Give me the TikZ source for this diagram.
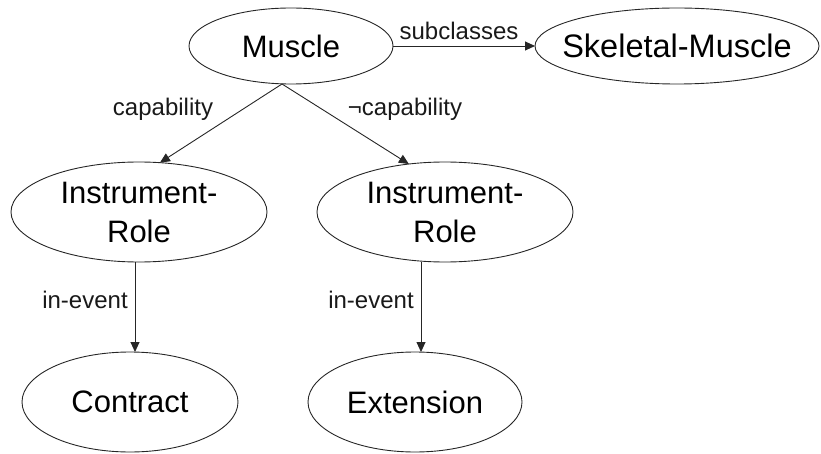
\documentclass[tikz,border=0pt]{standalone}
\usepackage{fontspec}
\setmainfont{Liberation Sans}
\usetikzlibrary{shapes.geometric,arrows.meta}
\tikzset{
  ell/.style={ellipse, draw=black!85, line width=0.9pt, inner sep=0pt, outer sep=0pt},
  ntext/.style={inner sep=0pt, align=center, font=\fontsize{31}{39}\selectfont},
  bigtext/.style={ntext, font=\fontsize{32.5}{39}\selectfont},
  elabel/.style={inner sep=0pt, font=\fontsize{24}{28}\selectfont, text=black!90},
  arr/.style={draw=black!85, line width=0.9pt, -{Triangle[length=10pt,width=9pt]}}
}
\begin{document}
\begin{tikzpicture}[x=1pt,y=-1pt]
\useasboundingbox (0,0) rectangle (821,454);
% nodes
\node[ell, minimum width=204pt, minimum height=76pt] (mus) at (291,46) {};
\node[ntext] (must) at (mus) {Muscle};
\node[ell, minimum width=284pt, minimum height=76pt] (sk) at (677,46) {};
\node[bigtext] (skt) at (sk) {Skeletal-Muscle};
\node[ell, minimum width=256pt, minimum height=100pt] (irl) at (139,212) {};
\node[ntext] (irlt) at (irl) {Instrument-\\Role};
\node[ell, minimum width=256pt, minimum height=100pt] (irr) at (445,212) {};
\node[ntext] (irrt) at (irr) {Instrument-\\Role};
\node[ell, minimum width=216pt, minimum height=100pt] (con) at (130,402) {};
\node[ntext] (cont) at (con) {Contract};
\node[ell, minimum width=214pt, minimum height=100pt] (ext) at (415,402) {};
\node[ntext] (extt) at (ext) {Extension};
% connectors
\coordinate (apex) at ([xshift=-9pt]mus.south);
\draw[arr] (mus.east) -- (sk.west);
\draw[arr] (apex) -- (irl.67);
\draw[arr] (apex) -- (irr.127);
\draw[arr] ([xshift=-4pt]irl.south) -- ([xshift=5pt]con.north);
\draw[arr] ([xshift=-24pt]irr.south) -- ([xshift=6pt]ext.north);
% labels
\node[elabel] (l1) at (459,31) {subclasses};
\node[elabel] (l2) at (163,109) {capability};
\node[elabel] (l3) at (405,109) {¬capability};
\node[elabel] (l4) at (85,300) {in-event};
\node[elabel] (l5) at (371,300) {in-event};
\end{tikzpicture}
\end{document}
